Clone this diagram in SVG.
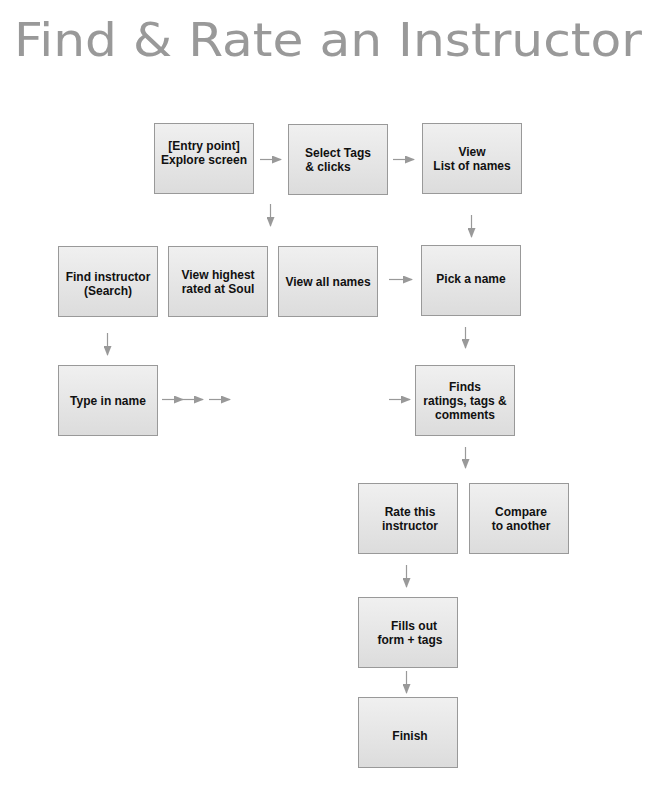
<svg xmlns="http://www.w3.org/2000/svg" width="656" height="795" viewBox="0 0 656 795">
<defs>
<linearGradient id="g" x1="0" y1="0" x2="0" y2="1"><stop offset="0" stop-color="#f0f0f0"/><stop offset="1" stop-color="#dcdcdc"/></linearGradient>
<marker id="ah" markerWidth="10" markerHeight="8" refX="9" refY="4" orient="auto" markerUnits="userSpaceOnUse"><path d="M0,0 L10,4 L0,8 Z" fill="#999"/></marker>
<style>
.b{fill:url(#g);stroke:#999;stroke-width:1}
.t{font-family:"Liberation Sans",Arial,sans-serif;font-weight:bold;font-size:12px;fill:#111;text-anchor:middle}
.c line{stroke:#999;stroke-width:1.2;marker-end:url(#ah)}
</style>
</defs>
<rect width="656" height="795" fill="#fff"/>
<text x="14" y="56" font-family="'DejaVu Sans',sans-serif" font-size="46" fill="#999" textLength="628" lengthAdjust="spacingAndGlyphs">Find &amp; Rate an Instructor</text>
<g id="entry"><rect class="b" x="154.5" y="123.5" width="99" height="70"/><text class="t" x="204" y="150">[Entry point]</text><text class="t" x="204" y="164">Explore screen</text></g>
<g id="tags"><rect class="b" x="288.5" y="124.5" width="99" height="70"/><text class="t" x="338" y="157">Select Tags</text><text class="t" x="328" y="171">&amp; clicks</text></g>
<g id="list"><rect class="b" x="422.5" y="123.5" width="99" height="70"/><text class="t" x="472" y="156">View</text><text class="t" x="472" y="170">List of names</text></g>
<g id="find"><rect class="b" x="58.5" y="246.5" width="99" height="70"/><text class="t" x="108" y="281">Find instructor</text><text class="t" x="108" y="295">(Search)</text></g>
<g id="highest"><rect class="b" x="168.5" y="246.5" width="99" height="70"/><text class="t" x="218" y="279">View highest</text><text class="t" x="218" y="293">rated at Soul</text></g>
<g id="all"><rect class="b" x="278.5" y="246.5" width="99" height="70"/><text class="t" x="328" y="286">View all names</text></g>
<g id="pick"><rect class="b" x="421.5" y="245.5" width="99" height="70"/><text class="t" x="471" y="283">Pick a name</text></g>
<g id="type"><rect class="b" x="58.5" y="365.5" width="99" height="70"/><text class="t" x="108" y="405">Type in name</text></g>
<g id="finds"><rect class="b" x="415.5" y="365.5" width="99" height="70"/><text class="t" x="465" y="391">Finds</text><text class="t" x="465" y="405">ratings, tags &amp;</text><text class="t" x="465" y="419">comments</text></g>
<g id="rate"><rect class="b" x="358.5" y="483.5" width="99" height="70"/><text class="t" x="410" y="516">Rate this</text><text class="t" x="410" y="530">instructor</text></g>
<g id="compare"><rect class="b" x="469.5" y="483.5" width="99" height="70"/><text class="t" x="521" y="516">Compare</text><text class="t" x="521" y="530">to another</text></g>
<g id="fills"><rect class="b" x="358.5" y="597.5" width="99" height="70"/><text class="t" x="414" y="630">Fills out</text><text class="t" x="410" y="644">form + tags</text></g>
<g id="finish"><rect class="b" x="358.5" y="697.5" width="99" height="70"/><text class="t" x="410" y="740">Finish</text></g>
<g class="c">
<line x1="260" y1="159.5" x2="281" y2="159.5"/>
<line x1="393" y1="159.5" x2="414" y2="159.5"/>
<line x1="270.5" y1="204" x2="270.5" y2="226"/>
<line x1="471.5" y1="215" x2="471.5" y2="237"/>
<line x1="107.5" y1="333" x2="107.5" y2="355"/>
<line x1="389" y1="279.5" x2="412" y2="279.5"/>
<line x1="465.5" y1="327" x2="465.5" y2="348"/>
<line x1="162" y1="399.5" x2="183" y2="399.5"/>
<line x1="182" y1="399.5" x2="203" y2="399.5"/>
<line x1="209" y1="399.5" x2="230" y2="399.5"/>
<line x1="389" y1="399.5" x2="410" y2="399.5"/>
<line x1="465.5" y1="447" x2="465.5" y2="468"/>
<line x1="406.5" y1="565" x2="406.5" y2="587"/>
<line x1="406.5" y1="671" x2="406.5" y2="693"/>
</g>
</svg>
